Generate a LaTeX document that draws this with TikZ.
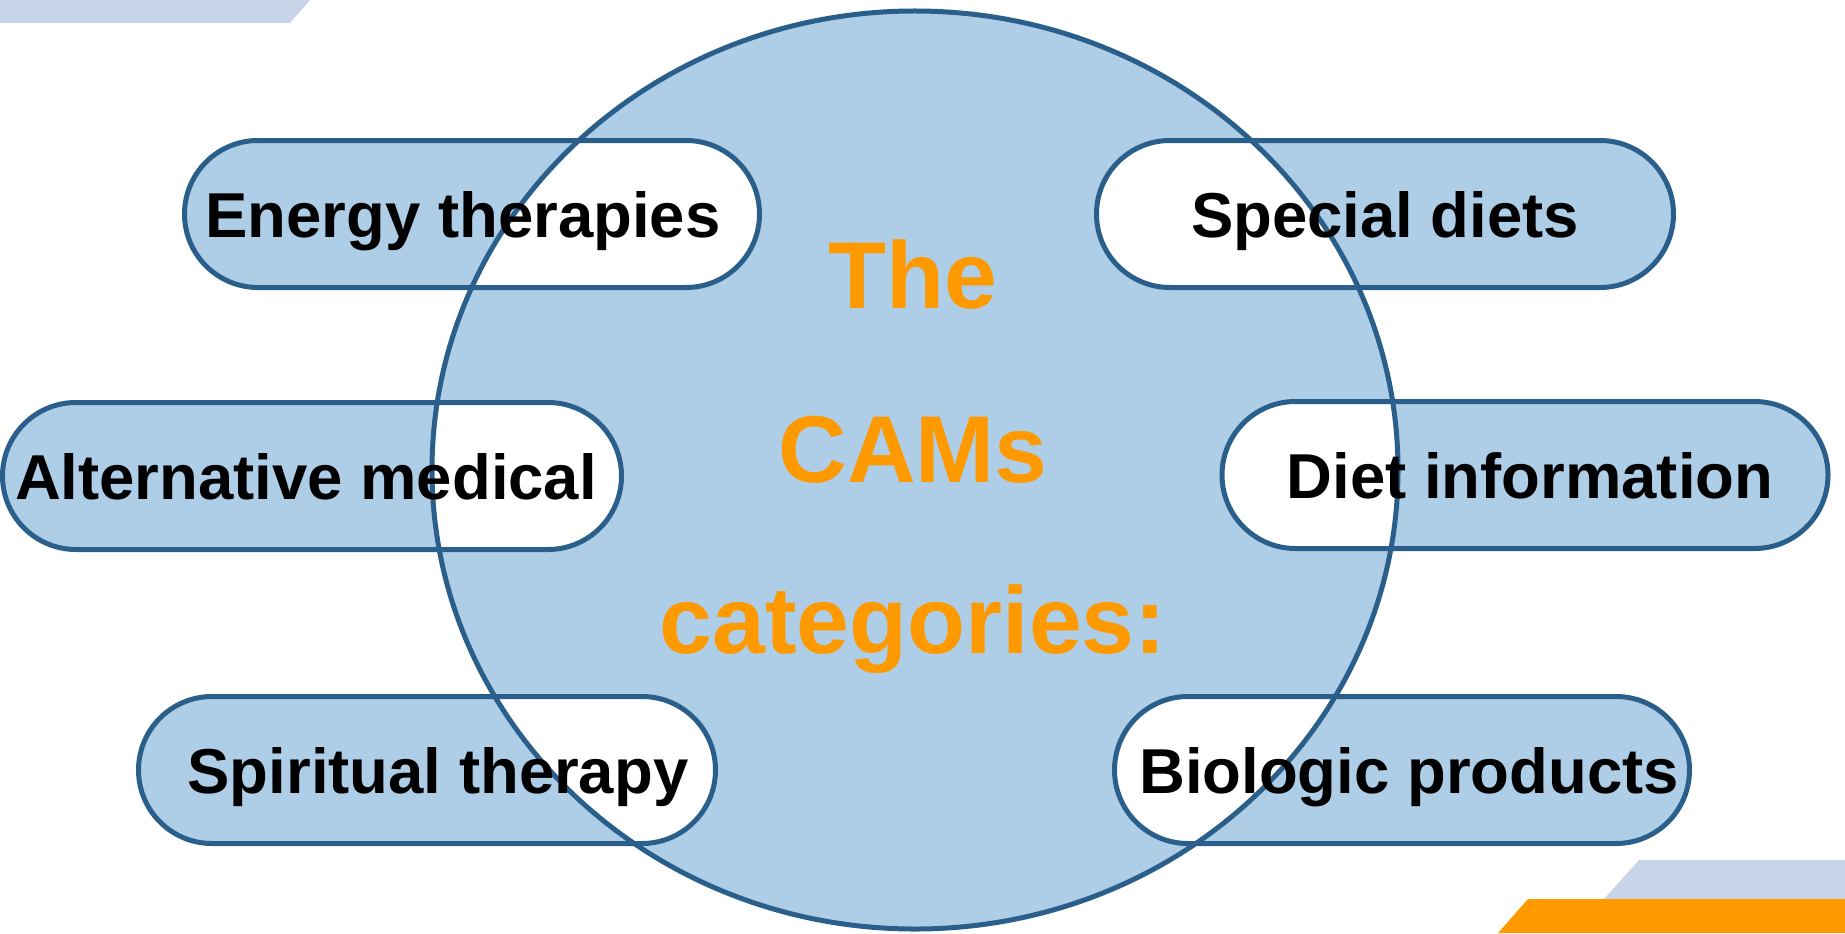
\documentclass[tikz,border=0pt]{standalone}
\usepackage{fontspec}
\setmainfont{Liberation Sans}
\usetikzlibrary{shapes.geometric,shapes.misc,calc,backgrounds}
\definecolor{pillblue}{HTML}{AECDE6}
\definecolor{edgeblue}{HTML}{2B5F8B}
\definecolor{camorange}{HTML}{FF9900}
\definecolor{cornerblue}{HTML}{C8D5E8}
\begin{document}
\begin{tikzpicture}[x=1bp,y=-1bp,
  pill/.style={rounded rectangle, draw=edgeblue, line width=5bp, inner sep=0pt, outer sep=0pt, minimum height=147bp},
  pilltext/.style={anchor=base, font=\fontsize{63.7}{70}\selectfont\bfseries, text=black, inner sep=0pt},
  titletext/.style={anchor=base, font=\fontsize{95.3}{100}\selectfont\bfseries, text=camorange, inner sep=0pt}]
\useasboundingbox (0,0) rectangle (1845,933);
% corner decorations
\fill[cornerblue] (0,0) -- (310,0) -- (290,23) -- (0,23) -- cycle;
\fill[cornerblue] (1639,860) -- (1845,860) -- (1845,899) -- (1604,899) -- cycle;
\fill[camorange] (1528,899) -- (1845,899) -- (1845,933) -- (1498,933) -- cycle;
% central ellipse and pills (outlines)
\node[ellipse, draw=edgeblue, line width=5bp, minimum width=966bp, minimum height=918bp, inner sep=0pt, outer sep=0pt] (hub) at (915,470) {};
\node[pill, minimum width=575bp] (p1) at (472,214) {};
\node[pill, minimum width=577bp] (p2) at (1385,214) {};
\node[pill, minimum width=619bp] (p3) at (312,476) {};
\node[pill, minimum width=606bp] (p4) at (1525,475) {};
\node[pill, minimum width=577bp] (p5) at (427,770) {};
\node[pill, minimum width=575bp] (p6) at (1402,770) {};
% xor fill
\begin{scope}[on background layer]
\fill[pillblue, even odd rule] (hub.center) ellipse [x radius=483bp, y radius=459bp]
  [rounded corners=73.4bp]
  (p1.west |- p1.north) rectangle (p1.east |- p1.south)
  (p2.west |- p2.north) rectangle (p2.east |- p2.south)
  (p3.west |- p3.north) rectangle (p3.east |- p3.south)
  (p4.west |- p4.north) rectangle (p4.east |- p4.south)
  (p5.west |- p5.north) rectangle (p5.east |- p5.south)
  (p6.west |- p6.north) rectangle (p6.east |- p6.south);
\end{scope}
% labels
\node[pilltext] (t1) at (463,237) {Energy therapies};
\node[pilltext] (t2) at (1385,237) {Special diets};
\node[pilltext] (t3) at (306,499) {Alternative medical};
\node[pilltext] (t4) at (1530,498) {Diet information};
\node[pilltext] (t5) at (438,793) {Spiritual therapy};
\node[pilltext] (t6) at (1409,793) {Biologic products};
% title
\node[titletext] (c1) at (913,308) {The};
\node[titletext] (c2) at (913,482) {CAMs};
\node[titletext] (c3) at (913,653) {categories:};
\end{tikzpicture}
\end{document}
